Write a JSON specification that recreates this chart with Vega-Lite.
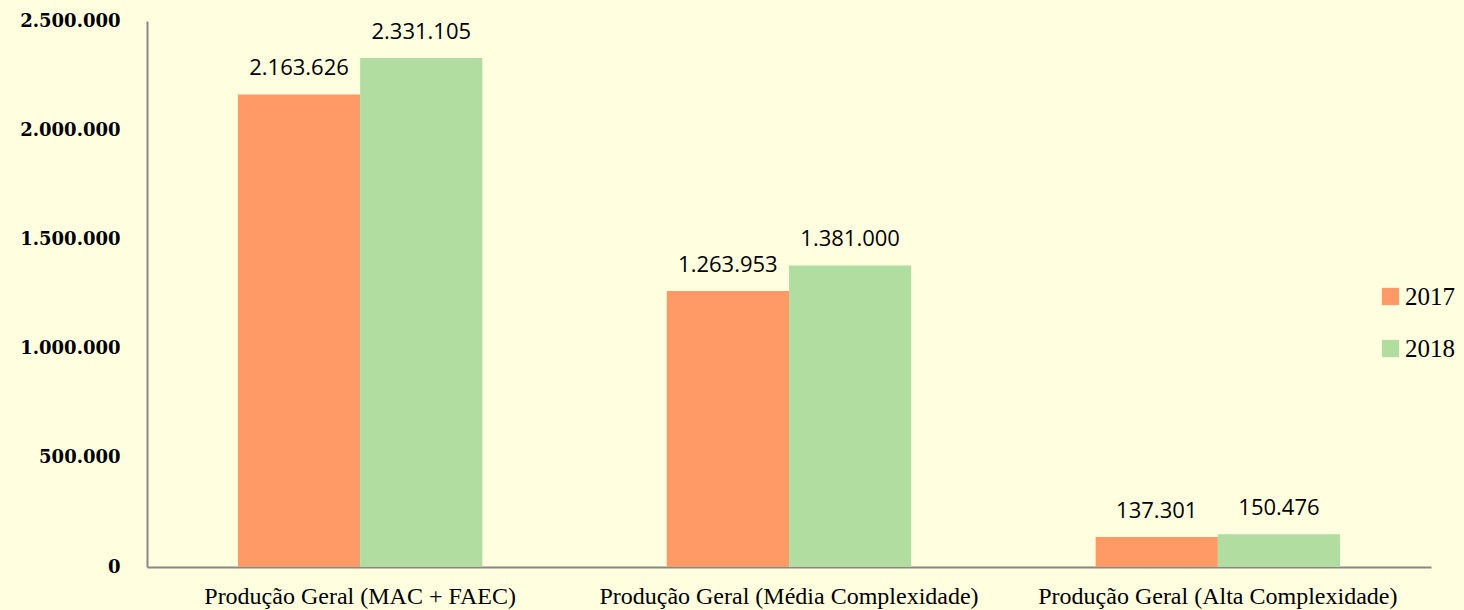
{
  "$schema": "https://vega.github.io/schema/vega-lite/v6.json",
  "width": 1284,
  "height": 546,
  "autosize": {"type": "none"},
  "padding": {"left": 147, "top": 21, "right": 33, "bottom": 43},
  "background": "#FFFFDF",
  "config": {
    "view": {"stroke": null},
    "locale": {"number": {"decimal": ",", "thousands": ".", "grouping": [3], "currency": ["R$", ""]}}
  },
  "data": {
    "values": [
      {"categoria": "Produção Geral (MAC + FAEC)", "ano": "2017", "valor": 2163626},
      {"categoria": "Produção Geral (MAC + FAEC)", "ano": "2018", "valor": 2331105},
      {"categoria": "Produção Geral (Média Complexidade)", "ano": "2017", "valor": 1263953},
      {"categoria": "Produção Geral (Média Complexidade)", "ano": "2018", "valor": 1381000},
      {"categoria": "Produção Geral (Alta Complexidade)", "ano": "2017", "valor": 137301},
      {"categoria": "Produção Geral (Alta Complexidade)", "ano": "2018", "valor": 150476}
    ]
  },
  "encoding": {
    "x": {
      "field": "categoria", "type": "nominal", "sort": null,
      "scale": {"paddingInner": 0.43, "paddingOuter": 0.212},
      "axis": {
        "title": null, "labelAngle": 0, "ticks": false, "domainColor": "#888888", "domainWidth": 2,
        "labelFont": "Liberation Serif", "labelFontSize": 24, "labelColor": "#000000", "labelPadding": 17,
        "labelLimit": 500
      }
    },
    "xOffset": {"field": "ano", "type": "nominal"},
    "y": {
      "field": "valor", "type": "quantitative",
      "scale": {"domain": [0, 2500000]},
      "axis": {
        "title": null, "grid": false, "ticks": false, "tickCount": 5, "format": ",d",
        "domainColor": "#888888", "domainWidth": 2,
        "labelFont": "DejaVu Serif", "labelFontSize": 18, "labelFontWeight": 600, "labelColor": "#000000",
        "labelPadding": 27
      }
    }
  },
  "layer": [
    {
      "mark": {"type": "bar"},
      "encoding": {
        "color": {
          "field": "ano", "type": "nominal",
          "scale": {"domain": ["2017", "2018"], "range": ["#FF9966", "#B1DDA1"]},
          "legend": {
            "title": null, "orient": "none", "legendX": 1231, "legendY": 263,
            "symbolType": "square", "symbolSize": 300, "symbolStrokeWidth": 0,
            "labelFont": "Liberation Serif", "labelFontSize": 25, "labelColor": "#000000",
            "rowPadding": 26, "labelOffset": 2
          }
        }
      }
    },
    {
      "mark": {"type": "text", "baseline": "alphabetic", "dy": -19, "font": "Open Sans", "fontSize": 22, "color": "#000000"},
      "encoding": {
        "text": {"field": "valor", "type": "quantitative", "format": ",d"}
      }
    }
  ]
}
